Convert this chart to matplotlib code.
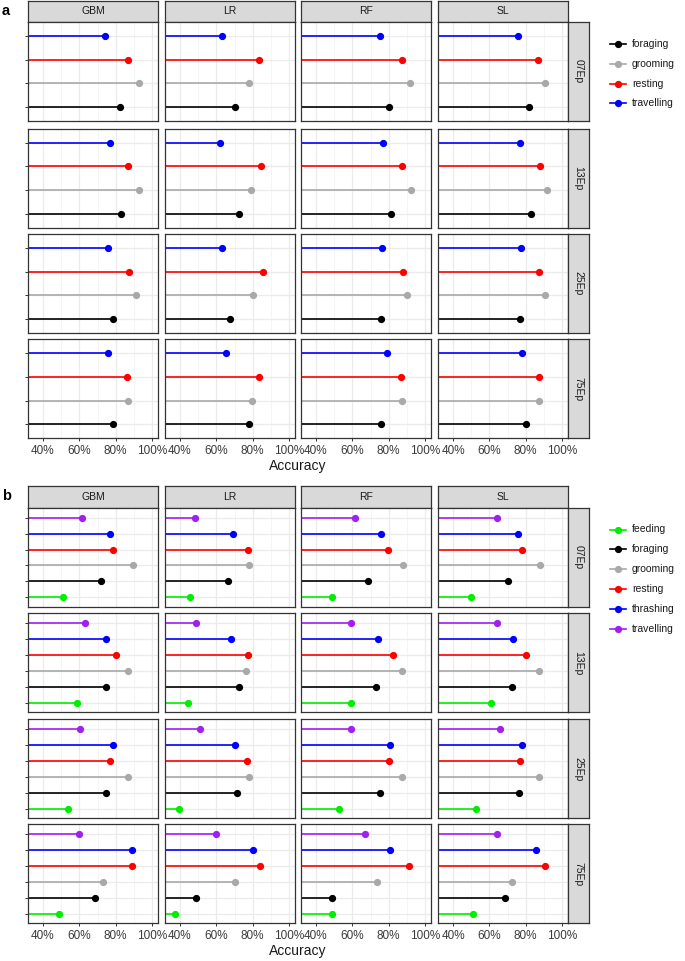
import matplotlib
matplotlib.use("Agg")
import matplotlib.pyplot as plt

plt.rcParams['font.family'] = ['Liberation Sans', 'DejaVu Sans']

models = ["GBM", "LR", "RF", "SL"]
epochs = ["07Ep", "13Ep", "25Ep", "75Ep"]

# panel a: behaviours bottom -> top
behav_a = ["foraging", "grooming", "resting", "travelling"]
colors_a = ["black", "#A9A9A9", "red", "blue"]
# accuracy (%), one row per epoch, columns follow behav_a
gbm_a = [[82.1, 92.7, 87.0, 74.2],
         [82.8, 92.7, 87.0, 76.6],
         [78.6, 91.4, 87.4, 75.7],
         [78.6, 86.8, 86.1, 76.0]]
lr_a = [[70.0, 78.2, 83.4, 63.0],
        [72.6, 79.3, 84.4, 62.1],
        [67.3, 79.9, 85.5, 63.0],
        [77.9, 79.5, 83.2, 65.4]]
rf_a = [[79.9, 91.6, 87.2, 75.4],
        [81.2, 92.0, 87.2, 77.0],
        [75.9, 90.2, 87.6, 76.1],
        [75.7, 87.1, 86.7, 79.0]]
sl_a = [[81.8, 90.7, 86.9, 75.7],
        [82.9, 91.6, 87.8, 76.7],
        [77.1, 90.4, 87.1, 77.3],
        [80.4, 87.1, 87.1, 78.0]]

# panel b
behav_b = ["feeding", "foraging", "grooming", "resting", "thrashing", "travelling"]
colors_b = ["#00EE00", "black", "#A9A9A9", "red", "blue", "#A020F0"]
gbm_b = [[50.8, 72.0, 89.4, 78.6, 76.8, 61.4],
         [58.7, 74.6, 86.8, 79.9, 74.9, 63.2],
         [53.7, 74.4, 86.5, 76.9, 78.4, 60.3],
         [48.6, 68.7, 73.1, 88.7, 88.7, 59.6]]
lr_b = [[45.3, 66.2, 78.0, 77.5, 69.3, 48.0],
        [44.6, 72.7, 76.4, 77.5, 67.8, 48.6],
        [39.5, 71.5, 78.2, 76.8, 70.0, 51.0],
        [37.3, 48.6, 70.5, 84.1, 80.2, 59.6]]
rf_b = [[48.9, 68.5, 87.8, 79.4, 75.9, 61.3],
        [59.5, 72.8, 87.4, 82.1, 74.3, 59.0],
        [52.8, 75.0, 87.2, 80.1, 80.9, 59.0],
        [48.9, 48.9, 73.6, 91.3, 80.7, 66.8]]
sl_b = [[49.8, 70.1, 88.1, 78.1, 75.9, 64.1],
        [61.0, 72.5, 87.1, 79.9, 73.2, 64.4],
        [52.5, 76.4, 87.1, 76.9, 77.7, 65.8],
        [51.0, 68.7, 72.7, 90.6, 85.9, 64.2]]

x_ticks = [40, 60, 80, 100]
x_minor = [50, 70, 90]

W, H = 685, 961
fig = plt.figure(figsize=(W / 100, H / 100), dpi=100)


def px_axes(x0, y0, w, h):
    return fig.add_axes([x0 / W, 1 - (y0 + h) / H, w / W, h / H])


col_left = [28, 165, 301, 438]
panel_w = 130
panel_h = 99
border = "#333333"

blocks = [
    dict(data={"GBM": gbm_a, "LR": lr_a, "RF": rf_a, "SL": sl_a},
         behav=behav_a, colors=colors_a, strip_top=1,
         row_top=[22, 128.7, 234, 339.3], leg_y=44, lab="a", acc_y=466),
    dict(data={"GBM": gbm_b, "LR": lr_b, "RF": rf_b, "SL": sl_b},
         behav=behav_b, colors=colors_b, strip_top=486,
         row_top=[508, 613.3, 719.3, 824.3], leg_y=529.5, lab="b", acc_y=951),
]

for blk in blocks:
    n = len(blk["behav"])
    ypos = list(range(1, n + 1))
    for j, m in enumerate(models):
        # top strip
        st = px_axes(col_left[j], blk["strip_top"], panel_w, blk["row_top"][0] - blk["strip_top"])
        st.set_facecolor("#D9D9D9")
        st.set_xticks([]); st.set_yticks([])
        for s in st.spines.values():
            s.set_color(border); s.set_linewidth(0.9)
        st.text(0.5, 0.5, m, ha="center", va="center", fontsize=7.5, color="#1A1A1A",
                transform=st.transAxes)
        for i, ep in enumerate(epochs):
            ax = px_axes(col_left[j], blk["row_top"][i], panel_w, panel_h)
            vals = blk["data"][m][i]
            ax.set_xlim(31.75, 103.25)
            ax.set_ylim(0.4, n + 0.6)
            for v in x_ticks:
                ax.axvline(v, color="#EBEBEB", lw=0.9, zorder=0)
            for v in x_minor:
                ax.axvline(v, color="#F2F2F2", lw=0.5, zorder=0)
            for y in ypos:
                ax.axhline(y, color="#EBEBEB", lw=0.9, zorder=0)
            for y, v, c in zip(ypos, vals, blk["colors"]):
                ax.hlines(y, 0, v, color=c, lw=1.2, zorder=2)
                ax.plot(v, y, "o", color=c, ms=4.2, zorder=3)
            for s in ax.spines.values():
                s.set_color(border); s.set_linewidth(0.9)
            ax.set_xticks(x_ticks)
            ax.set_yticks(ypos)
            ax.tick_params(length=2.5, width=0.7, color=border, pad=2)
            ax.set_yticklabels([])
            if j > 0:
                ax.tick_params(axis="y", length=0)
            if i < 3:
                ax.set_xticklabels([])
                ax.tick_params(axis="x", length=0)
            else:
                ax.set_xticklabels([f"{v}%" for v in x_ticks], fontsize=8.5, color="#3A3A3A")
            if j == 3:
                rs = px_axes(568, blk["row_top"][i], 21, panel_h)
                rs.set_facecolor("#D9D9D9")
                rs.set_xticks([]); rs.set_yticks([])
                for s in rs.spines.values():
                    s.set_color(border); s.set_linewidth(0.9)
                rs.text(0.5, 0.5, ep, ha="center", va="center", rotation=-90,
                        fontsize=7.5, color="#1A1A1A", transform=rs.transAxes)

# overlay for legends and labels, in pixel coordinates
ov = fig.add_axes([0, 0, 1, 1], zorder=10)
ov.set_xlim(0, W); ov.set_ylim(H, 0)
ov.axis("off")
ov.patch.set_alpha(0)
for blk in blocks:
    for k, (b, c) in enumerate(zip(blk["behav"], blk["colors"])):
        yy = blk["leg_y"] + k * 19.8
        ov.plot([610.5, 626.5], [yy, yy], color=c, lw=1.2)
        ov.plot(618.5, yy, "o", color=c, ms=4.2)
        ov.text(632, yy, b, ha="left", va="center", fontsize=7.5, color="#1A1A1A")
    ov.text(2, blk["strip_top"] + 10, blk["lab"], fontsize=10.5, fontweight="bold",
            ha="left", va="center")
    ov.text(298, blk["acc_y"], "Accuracy", fontsize=10, ha="center", va="center",
            color="#1A1A1A")

fig.savefig("out.png", dpi=100)
